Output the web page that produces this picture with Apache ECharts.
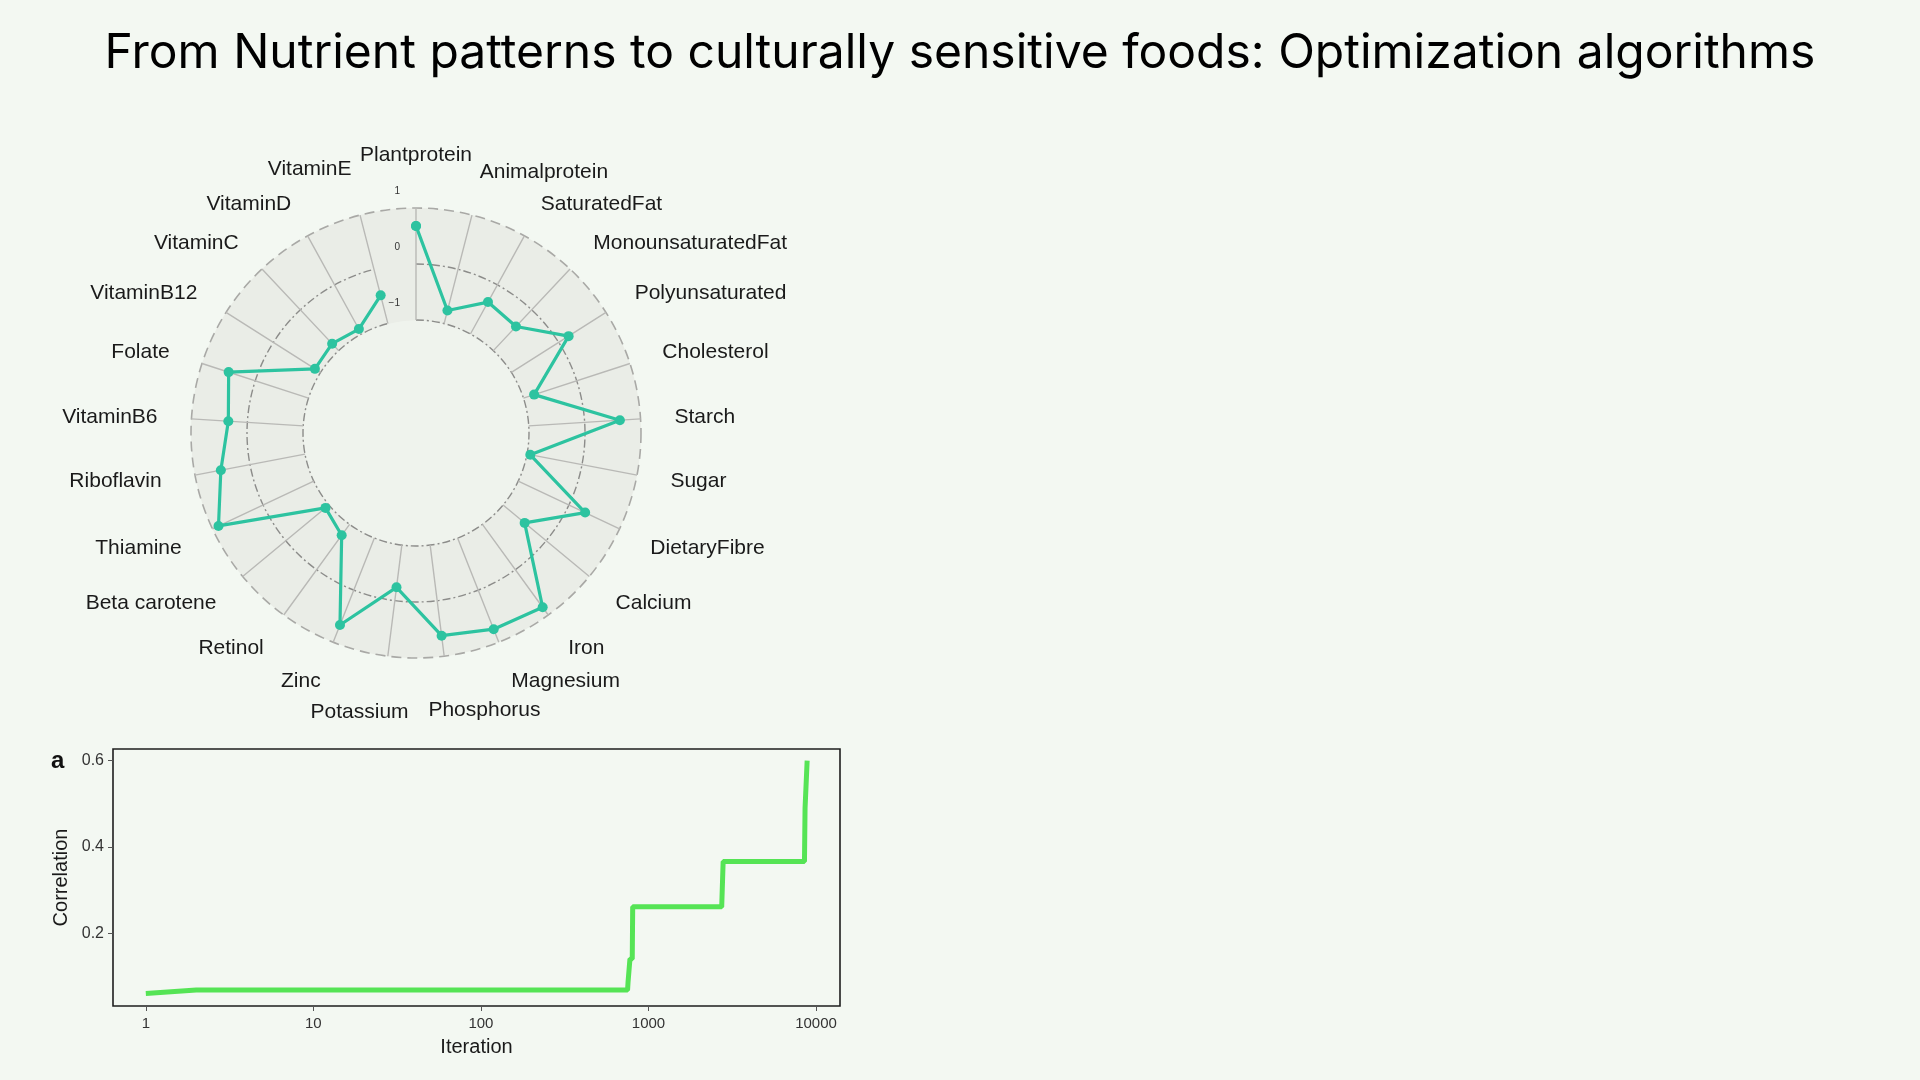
<!DOCTYPE html>
<html>
<head>
<meta charset="utf-8">
<script src="https://cdn.jsdelivr.net/npm/echarts@6/dist/echarts.min.js"></script>
<style>
  html, body { margin: 0; padding: 0; background: #f3f8f2; }
  #main { width: 1920px; height: 1080px; }
</style>
</head>
<body>
<div id="main"></div>
<script>
// nutrient profile (z-scores) around the radar ring
var nutrients = ['Plantprotein', 'Animalprotein', 'SaturatedFat', 'MonounsaturatedFat', 'Polyunsaturated',
    'Cholesterol', 'Starch', 'Sugar', 'DietaryFibre', 'Calcium', 'Iron', 'Magnesium', 'Phosphorus',
    'Potassium', 'Zinc', 'Retinol', 'Beta carotene', 'Thiamine', 'Riboflavin', 'VitaminB6', 'Folate',
    'VitaminB12', 'VitaminC', 'VitaminD', 'VitaminE'];
var nutrientScores = [0.68, -0.76, -0.35, -0.41, 0.21, -0.80, 0.63, -0.94, 0.32, -0.50, 0.83, 0.75, 0.63,
    -0.24, 0.67, -0.76, -0.92, 0.88, 0.53, 0.34, 0.50, -0.88, -0.83, -0.90, -0.48];
var ringTicks = [-1, 0, 1];

// optimisation trace (best correlation so far)
var iterations = [1, 2, 750, 755, 770, 775, 800, 805, 2735, 2790, 8530, 8600, 8850];
var correlation = [0.060, 0.068, 0.068, 0.086, 0.086, 0.14, 0.14, 0.261, 0.261, 0.366, 0.366, 0.49, 0.60];
var iterTicks = [1, 10, 100, 1000, 10000];
var corrTicks = [0.2, 0.4, 0.6];

var teal = '#2dc3a0';
var green = '#55e455';

// label nudges so the names sit like the original figure
var labelNudge = {
    'Plantprotein': { lineHeight: 38 },
    'Animalprotein': { lineHeight: 20, padding: [0, 0, 0, 127] },
    'SaturatedFat': { lineHeight: 4 },
    'MonounsaturatedFat': { lineHeight: 2 },
    'Polyunsaturated': { lineHeight: 2 },
    'Cholesterol': { lineHeight: 2 },
    'Starch': { padding: [6, 0, 0, 0] },
    'Sugar': { padding: [8, 0, 0, 0] },
    'DietaryFibre': { lineHeight: 10 },
    'Calcium': { lineHeight: 10 },
    'Magnesium': { lineHeight: 14 },
    'Phosphorus': { lineHeight: 40, padding: [0, 0, 0, 72] },
    'Potassium': { lineHeight: 44, padding: [0, 48, 0, 0] },
    'Zinc': { lineHeight: 14 },
    'Beta carotene': { lineHeight: 10 },
    'Thiamine': { lineHeight: 10 },
    'Riboflavin': { padding: [8, 0, 0, 0] },
    'VitaminB6': { padding: [6, 0, 0, 0] },
    'Folate': { lineHeight: 2 },
    'VitaminB12': { lineHeight: 2 },
    'VitaminC': { lineHeight: 2 },
    'VitaminD': { lineHeight: 4 },
    'VitaminE': { lineHeight: 26, padding: [0, 84, 0, 0] }
};

var angleCats = nutrients.map(function (n) {
    return labelNudge[n] ? { value: n, textStyle: labelNudge[n] } : n;
});

var radarData = [];
for (var i = 0; i < nutrients.length; i++) {
    radarData.push([nutrientScores[i], nutrients[i]]);
}
radarData.push([nutrientScores[0], nutrients[0]]); // close the loop

var traceData = [];
for (var j = 0; j < iterations.length; j++) {
    traceData.push([iterations[j], correlation[j]]);
}

var chart = echarts.init(document.getElementById('main'));
chart.setOption({
    backgroundColor: '#f3f8f2',
    textStyle: { fontFamily: 'Liberation Sans' },
    title: [{
        text: 'From Nutrient patterns to culturally sensitive foods: Optimization algorithms',
        left: 'center',
        top: 25,
        textStyle: { fontFamily: 'Inter', fontSize: 48, fontWeight: 'normal', color: '#000' }
    }, {
        text: 'a',
        left: 46,
        top: 744,
        textStyle: { fontFamily: 'Liberation Sans', fontSize: 24, fontWeight: 'bold', color: '#111' }
    }],
    polar: [
        { center: [416, 433], radius: [113, 225] },
        { center: [416, 433], radius: 225 }
    ],
    angleAxis: [{
        polarIndex: 0,
        type: 'category',
        data: angleCats,
        startAngle: 90,
        boundaryGap: false,
        z: 2,
        axisLine: { show: false },
        axisTick: { show: false, interval: 0 },
        axisLabel: {
            interval: 0, margin: 34, fontSize: 21, lineHeight: 12,
            color: '#1a1a1a', fontFamily: 'Liberation Sans'
        },
        splitLine: { show: true, interval: 0, lineStyle: { color: '#b9b9b6', width: 1.4 } }
    }, {
        polarIndex: 1,
        type: 'value',
        min: 0,
        max: 360,
        startAngle: 90,
        z: 0,
        axisLine: { show: true, lineStyle: { color: '#a9a9a6', width: 1.6, type: [10, 6] } },
        axisTick: { show: false },
        axisLabel: { show: false },
        splitLine: { show: false }
    }],
    radiusAxis: [{
        polarIndex: 0,
        type: 'value',
        min: -1,
        max: 1,
        interval: 1,
        z: 2,
        axisLine: { show: false },
        axisTick: { show: false },
        axisLabel: {
            fontSize: 10,
            color: '#333',
            margin: 16,
            verticalAlign: 'bottom',
            padding: [0, 0, 12, 0],
            formatter: function (v) { return v < 0 ? '\u2212' + Math.abs(v) : String(v); }
        },
        splitLine: {
            show: true,
            lineStyle: { color: ['#8c8c8a', '#8c8c8a', 'transparent'], width: 1.4, type: [8, 3, 2, 3] }
        }
    }, {
        polarIndex: 1,
        type: 'value',
        min: 0,
        max: 2,
        interval: 1,
        z: 0,
        axisLine: { show: false },
        axisTick: { show: false },
        axisLabel: { show: false },
        splitLine: { show: false },
        splitArea: { show: true, areaStyle: { color: ['#eff3ed', '#eaede7'] } }
    }],
    grid: {
        left: 113,
        top: 749,
        width: 727,
        height: 257,
        show: true,
        borderColor: '#1e1e1e',
        borderWidth: 1.6,
        backgroundColor: 'transparent'
    },
    xAxis: {
        type: 'log',
        logBase: 10,
        min: 0.637,
        max: 13900,
        name: 'Iteration',
        nameLocation: 'middle',
        nameGap: 31,
        nameTextStyle: { fontSize: 20, color: '#1a1a1a' },
        axisLine: { show: false },
        axisTick: { show: true, length: 5, lineStyle: { color: '#555' }, customValues: iterTicks },
        axisLabel: {
            fontSize: 15, color: '#333', margin: 10, customValues: iterTicks,
            formatter: function (v) { return String(Math.round(v)); }
        },
        splitLine: { show: false },
        minorTick: { show: false }
    },
    yAxis: {
        type: 'value',
        min: 0.031,
        max: 0.627,
        name: 'Correlation',
        nameLocation: 'middle',
        nameGap: 42,
        nameTextStyle: { fontSize: 20, color: '#1a1a1a' },
        axisLine: { show: false },
        axisTick: { show: true, length: 5, lineStyle: { color: '#555' }, customValues: corrTicks },
        axisLabel: {
            fontSize: 16, color: '#333', margin: 9, customValues: corrTicks,
            formatter: function (v) { return v.toFixed(1); }
        },
        splitLine: { show: false }
    },
    series: [{
        type: 'line',
        coordinateSystem: 'polar',
        polarIndex: 0,
        data: radarData,
        z: 5,
        symbol: 'circle',
        symbolSize: 10,
        lineStyle: { color: teal, width: 3.2 },
        itemStyle: { color: teal },
        animation: false
    }, {
        type: 'line',
        xAxisIndex: 0,
        yAxisIndex: 0,
        data: traceData,
        showSymbol: false,
        lineStyle: { color: green, width: 5 },
        animation: false
    }]
});
</script>
</body>
</html>
